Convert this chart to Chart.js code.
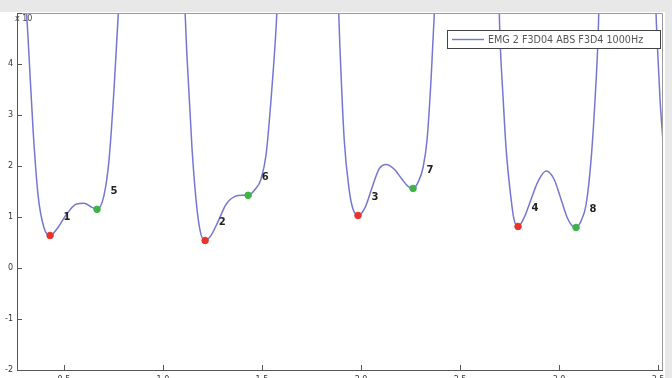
<!DOCTYPE html>
<html>
<head>
<meta charset="utf-8">
<script src="https://cdn.jsdelivr.net/npm/chart.js@4.4.1/dist/chart.umd.min.js"></script>
<style>
  html,body{margin:0;padding:0;background:#fff;overflow:hidden;}
  #wrap{width:672px;height:378px;overflow:hidden;position:relative;}
</style>
</head>
<body>
<div id="wrap"><canvas id="emg" width="672" height="392"></canvas></div>
<script>
// EMG envelope trace
const traceX=[0.298,0.319,0.344,0.369,0.399,0.430,0.470,0.516,0.561,0.601,0.642,0.667,0.702,0.728,0.753,0.773,0.788,
  0.945,
  1.101,1.122,1.147,1.172,1.192,1.213,1.243,1.278,1.319,1.364,1.399,1.430,1.465,1.495,1.521,1.546,1.571,1.586,
  1.743,
  1.879,1.894,1.915,1.940,1.960,1.985,2.021,2.056,2.091,2.127,2.167,2.207,2.238,2.263,2.288,2.314,2.334,2.354,2.374,2.384,
  2.551,
  2.692,2.702,2.718,2.733,2.758,2.773,2.793,2.824,2.859,2.894,2.935,2.975,3.010,3.041,3.066,3.086,3.111,3.137,3.162,3.182,3.197,3.207,
  3.359,
  3.480,3.495,3.510,3.526];
const traceY=[5.87,4.50,2.72,1.44,0.795,0.637,0.795,1.07,1.25,1.27,1.19,1.15,1.42,2.13,3.51,4.89,5.87,
  9.2,
  5.87,4.10,2.33,1.15,0.66,0.539,0.64,0.91,1.25,1.405,1.425,1.425,1.54,1.74,2.23,3.31,4.69,5.87,
  9.2,
  5.87,4.30,2.53,1.54,1.15,1.03,1.19,1.58,1.94,2.03,1.94,1.74,1.60,1.56,1.68,1.98,2.53,3.71,5.28,5.87,
  9.2,
  5.87,4.50,3.31,2.33,1.35,0.95,0.814,0.99,1.35,1.70,1.90,1.74,1.35,0.99,0.83,0.795,0.92,1.25,2.13,3.31,4.50,5.87,
  9.2,
  5.87,4.50,3.31,2.43];

// marked minima
const redX=[0.430,1.213,1.985,2.793];
const redY=[0.637,0.539,1.03,0.814];
const redLabels=['1','2','3','4'];
const greenX=[0.667,1.430,2.263,3.086];
const greenY=[1.15,1.425,1.56,0.795];
const greenLabels=['5','6','7','8'];

const xTicks=[0.5,1,1.5,2,2.5,3,3.5];
const yTicks=[-2,-1,0,1,2,3,4,5];
const legendText='EMG 2 F3D04 ABS F3D4 1000Hz';
const lineColor='#7676d2';

const zip=(a,b)=>a.map((v,i)=>({x:v,y:b[i]}));

// gray figure border + box lines
const frame={
  id:'frame',
  beforeDraw(c){
    const g=c.ctx;
    g.save();
    g.fillStyle='#fff'; g.fillRect(0,0,c.width,c.height);
    g.fillStyle='#e8e8e8';
    g.fillRect(0,0,c.width,12);
    g.fillRect(665,0,c.width-665,c.height);
    g.restore();
  },
  afterDraw(c){
    const g=c.ctx, a=c.chartArea;
    g.save();
    // top + right box
    g.strokeStyle='#9a9a9a'; g.lineWidth=1;
    g.beginPath();
    g.moveTo(a.left,a.top+0.5); g.lineTo(a.right+0.5,a.top+0.5); g.lineTo(a.right+0.5,a.bottom);
    g.stroke();
    // inward ticks
    g.strokeStyle='#555';
    const xs=c.scales.x, ys=c.scales.y;
    xTicks.forEach(v=>{const p=Math.round(xs.getPixelForValue(v))+0.5; g.beginPath(); g.moveTo(p,a.bottom); g.lineTo(p,a.bottom-5); g.stroke();});
    yTicks.forEach(v=>{const p=Math.round(ys.getPixelForValue(v))+0.5; g.beginPath(); g.moveTo(a.left,p); g.lineTo(a.left+5,p); g.stroke();});
    // exponent
    g.fillStyle='#444'; g.font='8px "DejaVu Sans"'; g.textBaseline='middle'; g.textAlign='left';
    g.fillText('x 10',a.left-2,a.top+6);
    // point numbers
    g.fillStyle='#222'; g.font='bold 10px "DejaVu Sans"'; g.textAlign='center';
    const lab=(X,Y,L)=>X.forEach((v,i)=>{g.fillText(L[i],xs.getPixelForValue(v)+17,ys.getPixelForValue(Y[i])-18);});
    lab(redX,redY,redLabels); lab(greenX,greenY,greenLabels);
    // legend box
    g.fillStyle='#fff'; g.fillRect(447,30,213,18);
    g.strokeStyle='#444'; g.strokeRect(447.5,30.5,213,18);
    g.strokeStyle=lineColor; g.lineWidth=1.4;
    g.beginPath(); g.moveTo(452,39.5); g.lineTo(484,39.5); g.stroke();
    g.fillStyle='#555'; g.font='9.6px "DejaVu Sans"'; g.textAlign='left';
    g.fillText(legendText,488,40);
    g.restore();
  }
};

new Chart(document.getElementById('emg'),{
  type:'scatter',
  data:{datasets:[
    {type:'line',label:legendText,data:zip(traceX,traceY),borderColor:lineColor,borderWidth:1.5,pointRadius:0,
     cubicInterpolationMode:'monotone',fill:false,order:2},
    {label:'red',data:zip(redX,redY),backgroundColor:'#e8322b',borderColor:'#e8322b',pointRadius:3.3,order:1},
    {label:'green',data:zip(greenX,greenY),backgroundColor:'#3fb34a',borderColor:'#3fb34a',pointRadius:3.3,order:1}
  ]},
  plugins:[frame],
  options:{
    responsive:false,animation:false,
    layout:{padding:{top:13,right:10,left:0,bottom:0}},
    plugins:{legend:{display:false},tooltip:{enabled:false}},
    scales:{
      x:{type:'linear',min:0.263,max:3.52,
        afterBuildTicks:s=>{s.ticks=xTicks.map(v=>({value:v}));},
        afterFit:s=>{s.height=22;},
        grid:{display:false,drawTicks:false},
        border:{color:'#555',width:1},
        ticks:{padding:5,color:'#333',font:{size:8,family:'DejaVu Sans'},maxRotation:0,autoSkip:false}},
      y:{type:'linear',min:-2,max:5,
        afterBuildTicks:s=>{s.ticks=yTicks.map(v=>({value:v}));},
        afterFit:s=>{s.width=17;},
        grid:{display:false,drawTicks:false},
        border:{color:'#555',width:1},
        ticks:{padding:4,color:'#333',font:{size:8,family:'DejaVu Sans'},autoSkip:false,
          callback:v=>v===5?'':v}}
    }
  }
});
</script>
</body>
</html>
